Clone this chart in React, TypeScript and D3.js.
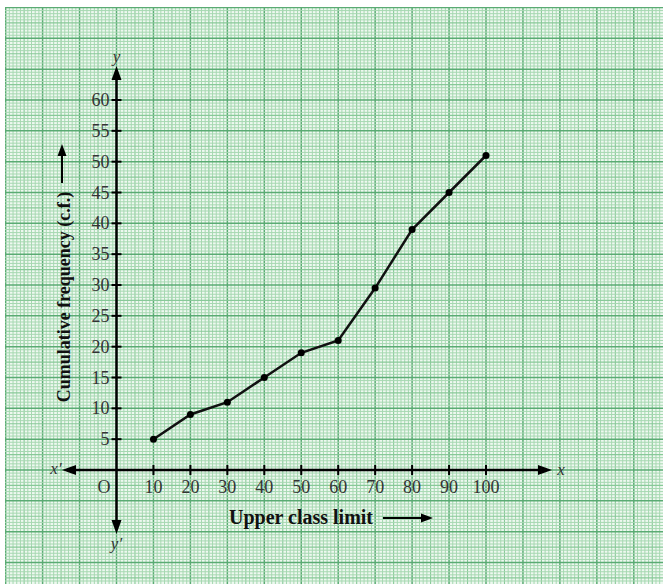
import React from "react";
import * as d3 from "d3";

// upper class limits and cumulative frequencies
const upperLimits = [10, 20, 30, 40, 50, 60, 70, 80, 90, 100];
const cumFreq = [5, 9, 11, 15, 19, 21, 29.5, 39, 45, 51];
const xTicks = [10, 20, 30, 40, 50, 60, 70, 80, 90, 100];
const yTicks = [5, 10, 15, 20, 25, 30, 35, 40, 45, 50, 55, 60];

const W = 663;
const H = 584;
const paper = { left: 5, top: 7, right: W, bottom: H };

export default function App() {
	const x = d3.scaleLinear().domain([0, 100]).range([116.5, 486]);
	const y = d3.scaleLinear().domain([0, 60]).range([470, 100]);

	// graph paper lines in data units so they line up with the axes
	const xMin = Math.ceil(x.invert(paper.left));
	const xMax = Math.floor(x.invert(paper.right));
	const yMin = Math.ceil(y.invert(paper.bottom) * 2) / 2;
	const yMax = Math.floor(y.invert(paper.top) * 2) / 2;
	const vLines = d3.range(xMin, xMax + 1, 1);
	const hLines = d3.range(yMin, yMax + 0.5, 0.5);

	const vStyle = (v: number) =>
		v % 10 === 0
			? { stroke: "#5aab73", w: 1.5 }
			: v % 5 === 0
			? { stroke: "#88c998", w: 1.1 }
			: { stroke: "#a6d8b1", w: 1 };
	const hStyle = (v: number) =>
		v % 5 === 0
			? { stroke: "#5aab73", w: 1.5 }
			: Math.abs(v % 2.5) < 1e-9
			? { stroke: "#88c998", w: 1.1 }
			: { stroke: "#a6d8b1", w: 1 };

	const line = d3
		.line<number>()
		.x((d, i) => x(upperLimits[i]))
		.y((d) => y(d));

	const x0 = x(0);
	const y0 = y(0);
	const serif = "'Liberation Serif', 'Times New Roman', serif";

	return (
		<svg
			width={W}
			height={H}
			style={{ position: "absolute", left: 0, top: 0, background: "#fff" }}
		>
			<defs>
				<clipPath id="paper">
					<rect
						x={paper.left}
						y={paper.top}
						width={paper.right - paper.left}
						height={paper.bottom - paper.top}
					/>
				</clipPath>
			</defs>
			<g clipPath="url(#paper)">
				<rect
					x={paper.left}
					y={paper.top}
					width={paper.right - paper.left}
					height={paper.bottom - paper.top}
					fill="#eef8f0"
				/>
				{vLines.map((v) => {
					const s = vStyle(v);
					return (
						<line
							key={"v" + v}
							x1={x(v)}
							x2={x(v)}
							y1={paper.top}
							y2={paper.bottom}
							stroke={s.stroke}
							strokeWidth={s.w}
						/>
					);
				})}
				{hLines.map((v) => {
					const s = hStyle(v);
					return (
						<line
							key={"h" + v}
							x1={paper.left}
							x2={paper.right}
							y1={y(v)}
							y2={y(v)}
							stroke={s.stroke}
							strokeWidth={s.w}
						/>
					);
				})}
			</g>

			{/* axes */}
			<line x1={x0} x2={x0} y1={76} y2={524} stroke="#000" strokeWidth={2.5} />
			<line x1={72} x2={542} y1={y0} y2={y0} stroke="#000" strokeWidth={2.5} />
			<path d={`M${x0},66 L${x0 - 5},80 L${x0 + 5},80 Z`} fill="#000" />
			<path d={`M${x0},534 L${x0 - 5},520 L${x0 + 5},520 Z`} fill="#000" />
			<path d={`M62,${y0} L76,${y0 - 5} L76,${y0 + 5} Z`} fill="#000" />
			<path d={`M552,${y0} L538,${y0 - 5} L538,${y0 + 5} Z`} fill="#000" />

			<g fontFamily={serif} fontStyle="italic" fontSize={17} fill="#333">
				<text x={x0} y={62} textAnchor="middle">y</text>
				<text x={x0} y={549} textAnchor="middle">y′</text>
				<text x={56} y={y0 + 4} textAnchor="middle">x′</text>
				<text x={561} y={y0 + 5} textAnchor="middle">x</text>
			</g>

			{/* ticks */}
			{xTicks.map((t) => (
				<g key={"xt" + t}>
					<line x1={x(t)} x2={x(t)} y1={y0 - 5} y2={y0 + 5} stroke="#000" strokeWidth={2} />
					<text
						x={x(t)}
						y={y0 + 23}
						textAnchor="middle"
						fontFamily={serif}
						fontSize={18}
						fill="#333"
					>
						{t}
					</text>
				</g>
			))}
			{yTicks.map((t) => (
				<g key={"yt" + t}>
					<line x1={x0 - 5} x2={x0 + 5} y1={y(t)} y2={y(t)} stroke="#000" strokeWidth={2} />
					<text
						x={x0 - 7}
						y={y(t) + 6}
						textAnchor="end"
						fontFamily={serif}
						fontSize={18}
						fill="#333"
					>
						{t}
					</text>
				</g>
			))}
			<text x={104} y={y0 + 23} textAnchor="middle" fontFamily={serif} fontSize={18} fill="#333">
				O
			</text>

			{/* axis titles */}
			<text
				x={301}
				y={524}
				textAnchor="middle"
				fontFamily={serif}
				fontWeight="bold"
				fontSize={20}
				fill="#111"
			>
				Upper class limit
			</text>
			<line x1={383} x2={424} y1={518} y2={518} stroke="#000" strokeWidth={2} />
			<path d="M433,518 L421,513.5 L421,522.5 Z" fill="#000" />

			<text
				transform="translate(70,297) rotate(-90)"
				textAnchor="middle"
				fontFamily={serif}
				fontWeight="bold"
				fontSize={18}
				fill="#111"
			>
				Cumulative frequency (c.f.)
			</text>
			<line x1={62} x2={62} y1={183} y2={152} stroke="#000" strokeWidth={2} />
			<path d="M62,144 L57.5,156 L66.5,156 Z" fill="#000" />

			{/* ogive */}
			<path d={line(cumFreq) || ""} fill="none" stroke="#111" strokeWidth={2.5} />
			{cumFreq.map((v, i) => (
				<circle key={"p" + i} cx={x(upperLimits[i])} cy={y(v)} r={3.5} fill="#000" />
			))}
		</svg>
	);
}
